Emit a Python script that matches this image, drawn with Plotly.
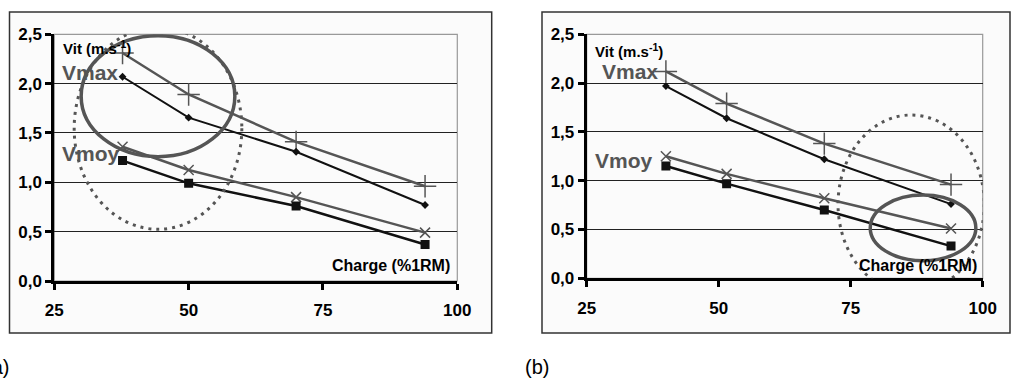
import plotly.graph_objects as go

# ---------------- data ----------------
charge_a = [37.7, 50, 70, 94]
vmax_plus_a = [2.31, 1.89, 1.41, 0.96]
vmax_a = [2.07, 1.655, 1.31, 0.77]
vmoy_x_a = [1.36, 1.125, 0.85, 0.49]
vmoy_a = [1.22, 0.99, 0.76, 0.37]

charge_b = [40, 51.5, 70, 94]
vmax_plus_b = [2.12, 1.79, 1.38, 0.96]
vmax_b = [1.97, 1.64, 1.22, 0.76]
vmoy_x_b = [1.25, 1.07, 0.82, 0.51]
vmoy_b = [1.15, 0.97, 0.70, 0.33]

x_ticks = [25, 50, 75, 100]
y_ticks = [0, 0.5, 1.0, 1.5, 2.0, 2.5]

W, H = 1011, 381
GRAY = "#555555"
BLACK = "#111111"
FONT = "Liberation Sans"

fig = go.Figure()


def add_panel(xs, s_plus, s_max, s_x, s_moy, xa, ya):
    fig.add_trace(go.Scatter(x=xs, y=s_plus, mode="lines+markers", xaxis=xa, yaxis=ya,
                             line=dict(color=GRAY, width=2.5),
                             marker=dict(symbol="cross-thin", size=16, line=dict(color=GRAY, width=1.5))))
    fig.add_trace(go.Scatter(x=xs, y=s_max, mode="lines+markers", xaxis=xa, yaxis=ya,
                             line=dict(color=BLACK, width=2),
                             marker=dict(symbol="diamond", size=6, color=BLACK)))
    fig.add_trace(go.Scatter(x=xs, y=s_x, mode="lines+markers", xaxis=xa, yaxis=ya,
                             line=dict(color=GRAY, width=2.5),
                             marker=dict(symbol="x-thin", size=10, line=dict(color=GRAY, width=1.5))))
    fig.add_trace(go.Scatter(x=xs, y=s_moy, mode="lines+markers", xaxis=xa, yaxis=ya,
                             line=dict(color=BLACK, width=2.5),
                             marker=dict(symbol="square", size=9, color=BLACK)))


add_panel(charge_a, vmax_plus_a, vmax_a, vmoy_x_a, vmoy_a, "x", "y")
add_panel(charge_b, vmax_plus_b, vmax_b, vmoy_x_b, vmoy_b, "x2", "y2")


def px_x(p):
    return p / W


def px_y(p):
    return 1 - p / H


tickfont = dict(family=FONT, size=17, color="black")
x_ticktext = [f"<b>{v}</b>" for v in x_ticks]
y_ticktext = [f"<b>{v:.1f}</b>".replace(".", ",") for v in y_ticks]

xaxis_common = dict(range=[25, 100], tickmode="array", tickvals=x_ticks, ticktext=x_ticktext,
                    showgrid=False, zeroline=False,
                    showline=True, linecolor="black", linewidth=3, ticks="outside",
                    ticklen=6, tickwidth=3, tickcolor="black", tickfont=tickfont,
                    ticklabelstandoff=6, fixedrange=True, automargin=False)
yaxis_common = dict(range=[0, 2.5], tickmode="array", tickvals=y_ticks, ticktext=y_ticktext,
                    showgrid=True, gridcolor="#222222", gridwidth=1, zeroline=False,
                    showline=True, linecolor="black", linewidth=3, ticks="outside",
                    ticklen=6, tickwidth=3, tickcolor="black", tickfont=tickfont,
                    fixedrange=True, automargin=False)

fig.update_layout(
    width=W, height=H, autosize=False,
    margin=dict(l=0, r=0, t=0, b=0, pad=0),
    paper_bgcolor="white",
    plot_bgcolor="#f2f2f2",
    showlegend=False,
    xaxis=dict(domain=[px_x(54.3), px_x(457.3)], anchor="y", **xaxis_common),
    yaxis=dict(domain=[px_y(281), px_y(34.3)], anchor="x", **yaxis_common),
    xaxis2=dict(domain=[px_x(586.7), px_x(982.7)], anchor="y2", **xaxis_common),
    yaxis2=dict(domain=[px_y(278.3), px_y(34.3)], anchor="x2", **yaxis_common),
)

shapes = []
# outer frames
for x0, x1 in [(9.5, 491.7), (542, 1010)]:
    shapes.append(dict(type="rect", xref="paper", yref="paper",
                       x0=px_x(x0), x1=px_x(x1), y0=px_y(333), y1=px_y(12),
                       line=dict(color="#333333", width=1.5), fillcolor="#fbfbfb", layer="below"))
# plot area top/right border
for xa, ya in [("x", "y"), ("x2", "y2")]:
    shapes.append(dict(type="rect", xref=f"{xa} domain", yref=f"{ya} domain",
                       x0=0, x1=1, y0=0, y1=1, line=dict(color="#999999", width=1.2),
                       layer="below"))

# ellipses (data coordinates)
shapes.append(dict(type="circle", xref="x", yref="y", x0=30, x1=58.6, y0=1.26, y1=2.486,
                   line=dict(color="#555555", width=3.5)))
shapes.append(dict(type="circle", xref="x", yref="y", x0=28.7, x1=59.9, y0=0.524, y1=2.571,
                   line=dict(color="#555555", width=3, dash="3px,5px")))
shapes.append(dict(type="circle", xref="x2", yref="y2", x0=78.7, x1=98.7, y0=0.18, y1=0.853,
                   line=dict(color="#555555", width=3.5)))
shapes.append(dict(type="circle", xref="x2", yref="y2", x0=72.6, x1=100.3, y0=-0.154, y1=1.673,
                   line=dict(color="#555555", width=3, dash="3px,5px")))
fig.update_layout(shapes=shapes)

ann = []


def txt(text, x, y, xref, yref, size, color="black", bold=False, xanchor="left"):
    ann.append(dict(text=f"<b>{text}</b>" if bold else text, x=x, y=y, xref=xref, yref=yref,
                    showarrow=False, xanchor=xanchor, yanchor="middle",
                    font=dict(family=FONT, size=size, color=color)))


# panel a
txt("Vit (m.s<sup>-1</sup>)", 26.2, 2.365, "x", "y", 15, bold=True)
txt("Vmax", 26.0, 2.11, "x", "y", 21, color=GRAY, bold=True)
txt("Vmoy", 26.0, 1.295, "x", "y", 21, color=GRAY, bold=True)
txt("Charge (%1RM)", 99.0, 0.162, "x", "y", 16, bold=True, xanchor="right")
# panel b
txt("Vit (m.s<sup>-1</sup>)", 26.1, 2.33, "x2", "y2", 15, bold=True)
txt("Vmax", 27.6, 2.117, "x2", "y2", 21, color=GRAY, bold=True)
txt("Vmoy", 26.1, 1.212, "x2", "y2", 21, color=GRAY, bold=True)
txt("Charge (%1RM)", 99.3, 0.136, "x2", "y2", 16, bold=True, xanchor="right")
# panel letters
txt("(a)", px_x(11), px_y(366.7), "paper", "paper", 20, xanchor="right")
txt("(b)", px_x(523), px_y(366.7), "paper", "paper", 20)

fig.update_layout(annotations=ann)

fig.write_html(
    "out.html",
    config={"displayModeBar": False},
    post_script="document.body.style.margin='0';document.body.style.overflow='hidden';",
)
